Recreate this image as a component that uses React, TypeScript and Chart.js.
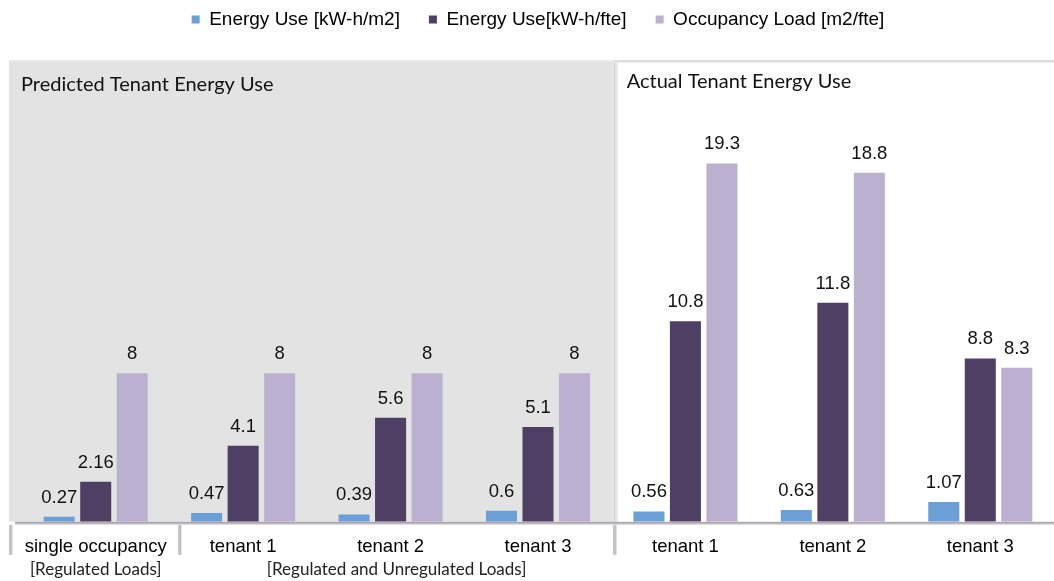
import React, { useEffect, useRef } from "react";
import { Chart, registerables } from "chart.js";

Chart.register(...registerables);

const categories = ["single occupancy", "tenant 1", "tenant 2", "tenant 3", "tenant 1", "tenant 2", "tenant 3"];
const seriesNames = ["Energy Use [kW-h/m2]", "Energy Use[kW-h/fte]", "Occupancy Load [m2/fte]"];
const energyPerArea = [0.27, 0.47, 0.39, 0.6, 0.56, 0.63, 1.07];
const energyPerFte = [2.16, 4.1, 5.6, 5.1, 10.8, 11.8, 8.8];
const occupancyLoad = [8, 8, 8, 8, 19.3, 18.8, 8.3];
const panelTitles = ["Predicted Tenant Energy Use", "Actual Tenant Energy Use"];
const groupNotes = ["[Regulated Loads]", "[Regulated and Unregulated Loads]"];
const seriesColors = ["#6A9FD8", "#4F3F64", "#BBB0CF"];

const ARIAL = "'Liberation Sans', Arial, sans-serif";
const CALIBRI = "Lato, 'Open Sans', sans-serif";

const decor = {
  id: "decor",
  beforeDraw(chart: any) {
    const { ctx, chartArea: ca, scales } = chart;
    const x = scales.x;
    const base = ca.bottom;
    const top = 60;
    const split = (x.getPixelForValue(3) + x.getPixelForValue(4)) / 2 + 2;
    ctx.save();
    ctx.fillStyle = "#ffffff";
    ctx.fillRect(0, 0, chart.width, chart.height);
    // predicted panel (gray)
    ctx.fillStyle = "#E3E3E3";
    ctx.fillRect(9, top, split - 9, base - top);
    ctx.fillStyle = "#EAEAEA";
    ctx.fillRect(9, top, split - 9, 2);
    // actual panel (white) with soft border
    ctx.fillStyle = "#ffffff";
    ctx.fillRect(split, top, chart.width - split, base - top);
    ctx.fillStyle = "#D2D2D2";
    ctx.fillRect(split, top, 2, base - top);
    ctx.fillStyle = "#E6E6E6";
    ctx.fillRect(split + 2, top, 2, base - top);
    ctx.fillStyle = "#DCDCDC";
    ctx.fillRect(split, top, chart.width - split, 2);
    ctx.fillStyle = "#EFEFEF";
    ctx.fillRect(split, top + 2, chart.width - split, 1);
    // titles
    ctx.fillStyle = "#111";
    ctx.font = `20px ${CALIBRI}`;
    ctx.textBaseline = "middle";
    ctx.textAlign = "left";
    ctx.fillText(panelTitles[0], 21, 85);
    ctx.fillText(panelTitles[1], split + 13, 82);
    ctx.restore();
  },
  afterDatasetsDraw(chart: any) {
    const { ctx, chartArea: ca, scales } = chart;
    const x = scales.x;
    const base = ca.bottom;
    const split = (x.getPixelForValue(3) + x.getPixelForValue(4)) / 2 + 2;
    const sep1 = (x.getPixelForValue(0) + x.getPixelForValue(1)) / 2 + 10;
    ctx.save();
    // axis line
    ctx.fillStyle = "#ABA5AE";
    ctx.fillRect(15, base, chart.width - 15, 2);
    ctx.fillStyle = "#D6D3D8";
    ctx.fillRect(15, base + 2, chart.width - 15, 1);
    // separators
    [10, sep1, split].forEach((sx) => {
      ctx.fillStyle = "#C4C4C4";
      ctx.fillRect(Math.round(sx) - 1, base + 3, 3, 30);
      ctx.fillStyle = "#E2E2E2";
      ctx.fillRect(Math.round(sx) + 2, base + 3, 1, 30);
    });
    // value labels
    ctx.fillStyle = "#111";
    ctx.font = `18.5px ${ARIAL}`;
    ctx.textAlign = "center";
    ctx.textBaseline = "bottom";
    chart.data.datasets.forEach((ds: any, di: number) => {
      const meta = chart.getDatasetMeta(di);
      meta.data.forEach((bar: any, i: number) => {
        ctx.fillText(String(ds.data[i]), bar.x, bar.y - 10);
      });
    });
    // group notes
    ctx.font = `17px ${CALIBRI}`;
    ctx.textBaseline = "middle";
    ctx.fillStyle = "#222";
    ctx.fillText(groupNotes[0], x.getPixelForValue(0), 570);
    ctx.fillText(groupNotes[1], (sep1 + split) / 2, 570);
    ctx.restore();
  },
};

export default function App() {
  const ref = useRef<HTMLCanvasElement>(null);
  useEffect(() => {
    document.body.style.margin = "0";
    const data = [energyPerArea, energyPerFte, occupancyLoad];
    const chart = new Chart(ref.current as HTMLCanvasElement, {
      type: "bar",
      data: {
        labels: categories,
        datasets: seriesNames.map((name, i) => ({
          label: name,
          data: data[i],
          backgroundColor: seriesColors[i],
          borderWidth: 0,
          barPercentage: 0.85,
          categoryPercentage: 0.743,
        })),
      },
      options: {
        animation: false,
        responsive: true,
        maintainAspectRatio: false,
        layout: { padding: { top: -19, left: 22, right: 0, bottom: 9 } },
        plugins: {
          legend: {
            position: "top",
            labels: {
              boxWidth: 8,
              boxHeight: 8,
              padding: 29,
              color: "#000",
              font: { family: ARIAL, size: 19 },
            },
          },
          tooltip: { enabled: false },
        },
        scales: {
          x: {
            grid: { display: false, drawTicks: false },
            border: { display: false },
            ticks: {
              color: "#000",
              padding: 14,
              maxRotation: 0,
              minRotation: 0,
              autoSkip: false,
              font: { family: ARIAL, size: 18.5 },
            },
          },
          y: { display: false, min: 0, max: 26 },
        },
      },
      plugins: [decor],
    });
    return () => chart.destroy();
  }, []);
  return (
    <div style={{ width: 1054, height: 581, position: "relative" }}>
      <canvas ref={ref} />
    </div>
  );
}
